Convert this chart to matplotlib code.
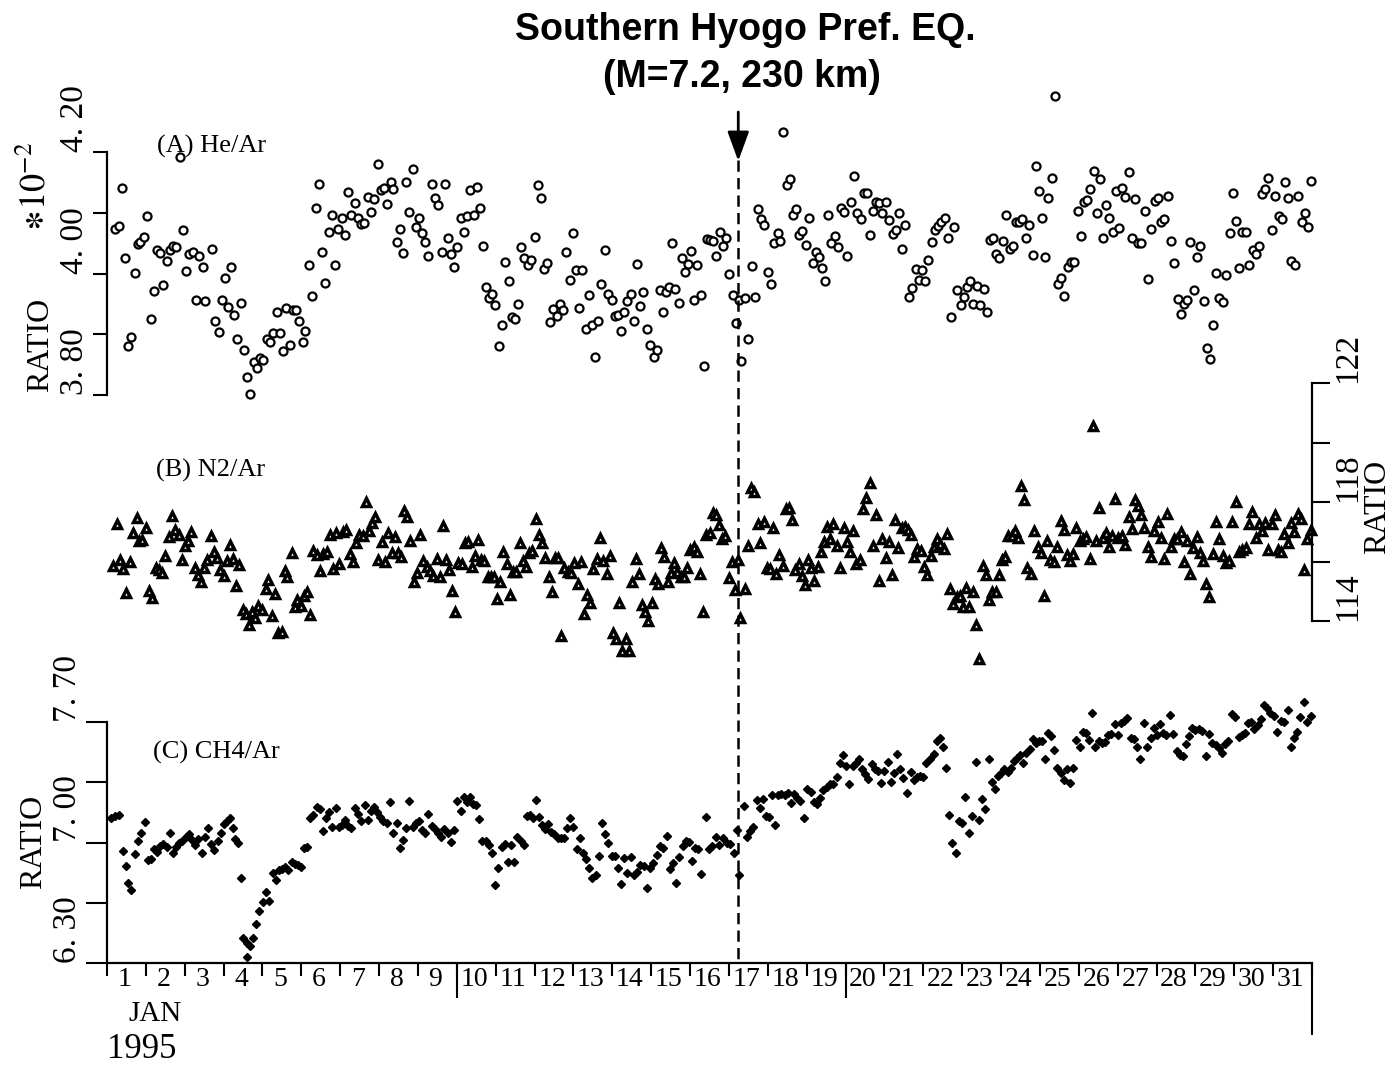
import matplotlib
matplotlib.use("Agg")
import matplotlib.pyplot as plt
from matplotlib.lines import Line2D
from matplotlib.transforms import blended_transform_factory

plt.rcParams["font.family"] = ["Liberation Serif", "DejaVu Serif"]
plt.rcParams["mathtext.fontset"] = "stix"

# ---- data (2-hourly samples, Jan 1995) ----
# day of month (fractional) and ratio for each panel

he_day = [
    1.20, 1.30, 1.38, 1.46, 1.54, 1.61, 1.71, 1.79, 1.86, 1.95,
    2.04, 2.12, 2.20, 2.29, 2.37, 2.45, 2.54, 2.63, 2.71, 2.78,
    2.88, 2.95, 3.03, 3.11, 3.21, 3.29, 3.37, 3.46, 3.53, 3.69,
    3.77, 3.87, 3.95, 4.04, 4.10, 4.18, 4.28, 4.35, 4.45, 4.53,
    4.61, 4.69, 4.77, 4.86, 4.93, 5.02, 5.12, 5.20, 5.27, 5.37,
    5.44, 5.52, 5.60, 5.70, 5.78, 5.85, 5.95, 6.03, 6.10, 6.19,
    6.28, 6.37, 6.46, 6.54, 6.62, 6.70, 6.79, 6.87, 6.95, 7.04,
    7.12, 7.21, 7.29, 7.37, 7.45, 7.53, 7.61, 7.71, 7.79, 7.86,
    7.96, 8.04, 8.12, 8.21, 8.30, 8.37, 8.45, 8.53, 8.61, 8.70,
    8.78, 8.88, 8.95, 9.03, 9.11, 9.19, 9.27, 9.36, 9.45, 9.52,
    9.61, 9.69, 9.77, 9.85, 9.93, 10.01, 10.10, 10.18, 10.27, 10.35,
    10.43, 10.51, 10.59, 10.67, 10.76, 10.84, 10.91, 10.99, 11.08, 11.16,
    11.24, 11.33, 11.42, 11.50, 11.57, 11.66, 11.74, 11.82, 11.90, 12.00,
    12.08, 12.16, 12.24, 12.33, 12.40, 12.48, 12.57, 12.65, 12.74, 12.82,
    12.90, 12.99, 13.06, 13.14, 13.23, 13.32, 13.40, 13.48, 13.55, 13.63,
    13.72, 13.80, 13.89, 13.98, 14.06, 14.14, 14.22, 14.30, 14.38, 14.47,
    14.56, 14.64, 14.72, 14.80, 14.89, 14.97, 15.06, 15.14, 15.22, 15.30,
    15.38, 15.46, 15.54, 15.62, 15.71, 15.79, 15.87, 15.95, 16.03, 16.11,
    16.19, 16.27, 16.36, 16.44, 16.52, 16.60, 16.68, 16.76,
    16.86, 16.93, 17.01, 17.10, 17.18, 17.26, 17.32, 17.42, 17.50, 17.59,
    17.67, 17.76, 17.83, 17.90, 18.00, 18.08, 18.17, 18.25, 18.31, 18.40,
    18.49, 18.58, 18.66, 18.73, 18.81, 18.89, 18.98, 19.06, 19.15, 19.23,
    19.31, 19.39, 19.47, 19.55, 19.63, 19.73, 19.81, 19.89, 19.97, 20.05,
    20.14, 20.22, 20.30, 20.39, 20.47, 20.55, 20.63, 20.71, 20.79, 20.87,
    20.95, 21.05, 21.13, 21.21, 21.29, 21.38, 21.46, 21.54, 21.63, 21.72,
    21.80, 21.88, 21.96, 22.04, 22.13, 22.22, 22.30, 22.38, 22.46, 22.55,
    22.63, 22.71, 22.79, 22.88, 22.96, 23.04, 23.13, 23.21, 23.29, 23.37,
    23.47, 23.55, 23.63, 23.71, 23.79, 23.87, 23.96, 24.05, 24.14, 24.22,
    24.30, 24.38, 24.46, 24.55, 24.63, 24.71, 24.81, 24.89, 24.97, 25.05,
    25.13, 25.22, 25.30, 25.39, 25.47, 25.55, 25.63, 25.71, 25.79, 25.87,
    25.97, 26.05, 26.13, 26.21, 26.29, 26.38, 26.46, 26.54, 26.63, 26.71,
    26.79, 26.88, 26.96, 27.04, 27.12, 27.20, 27.29, 27.37, 27.45, 27.53,
    27.61, 27.70, 27.78, 27.87, 27.95, 28.04, 28.12, 28.20, 28.29, 28.37,
    28.46, 28.55, 28.63, 28.71, 28.79, 28.87, 28.96, 29.05, 29.12, 29.21,
    29.29, 29.38, 29.46, 29.54, 29.62, 29.70, 29.80, 29.88, 29.96, 30.04,
    30.13, 30.21, 30.29, 30.38, 30.47, 30.55, 30.63, 30.72, 30.80, 30.88,
    30.96, 31.06, 31.14, 31.22, 31.30, 31.39, 31.47, 31.55, 31.65, 31.73,
    31.81, 31.89, 31.98,
]
he_ratio = [  # x 10^-2
    4.074, 4.078, 4.141, 4.025, 3.881, 3.895, 4.001, 4.048, 4.052, 4.060,
    4.095, 3.925, 3.971, 4.038, 4.033, 3.981, 4.021, 4.039, 4.045, 4.044,
    4.192, 4.072, 4.004, 4.032, 4.036, 3.957, 4.028, 4.011, 3.955, 4.041,
    3.921, 3.903, 3.957, 3.992, 3.945, 4.011, 3.931, 3.892, 3.951, 3.874,
    3.829, 3.801, 3.854, 3.844, 3.861, 3.858, 3.892, 3.888, 3.902, 3.937,
    3.902, 3.873, 3.944, 3.883, 3.940, 3.940, 3.922, 3.887, 3.905, 4.014,
    3.963, 4.107, 4.147, 4.035, 3.985, 4.068, 4.097, 4.014, 4.073, 4.091,
    4.064, 4.134, 4.096, 4.116, 4.092, 4.081, 4.083, 4.126, 4.102, 4.123,
    4.181, 4.137, 4.141, 4.114, 4.150, 4.139, 4.052, 4.074, 4.034, 4.150,
    4.102, 4.172, 4.077, 4.092, 4.067, 4.052, 4.029, 4.147, 4.125, 4.112,
    4.035, 4.147, 4.058, 4.032, 4.011, 4.043, 4.091, 4.069, 4.094, 4.137,
    4.097, 4.143, 4.107, 4.046, 3.978, 3.960, 3.966, 3.948, 3.881, 3.915,
    4.019, 3.987, 3.929, 3.925, 3.950, 4.043, 4.025, 4.014, 4.022, 4.060,
    4.146, 4.125, 4.007, 4.018, 3.920, 3.942, 3.930, 3.949, 3.940, 4.036,
    3.989, 4.067, 4.005, 3.943, 4.006, 3.908, 3.965, 3.915, 3.862, 3.922,
    3.982, 4.039, 3.966, 3.956, 3.930, 3.931, 3.905, 3.936, 3.954, 3.967,
    3.922, 4.015, 3.947, 3.970, 3.909, 3.882, 3.862, 3.874, 3.973, 3.936,
    3.969, 3.978, 4.051, 3.974, 3.951, 4.025, 4.002, 4.015, 4.037, 3.956,
    4.014, 3.965, 3.848, 4.057, 4.055, 4.053, 4.028, 4.068,
    4.046, 4.058, 4.000, 3.965, 3.918, 3.956, 3.856, 3.959, 3.893, 4.013,
    3.961, 4.106, 4.090, 4.080, 4.002, 3.983, 4.050, 4.066, 4.054, 4.233,
    4.146, 4.155, 4.096, 4.106, 4.064, 4.070, 4.047, 4.092, 4.017, 4.036,
    4.027, 4.009, 3.988, 4.097, 4.051, 4.061, 4.044, 4.107, 4.102, 4.028,
    4.118, 4.160, 4.099, 4.089, 4.132, 4.133, 4.063, 4.103, 4.117, 4.116,
    4.099, 4.118, 4.088, 4.065, 4.072, 4.099, 4.041, 4.080, 3.961, 3.976,
    4.007, 3.990, 4.005, 3.987, 4.022, 4.052, 4.071, 4.079, 4.085, 4.092,
    4.058, 3.928, 4.076, 3.973, 3.948, 3.961, 3.978, 3.987, 3.949, 3.979,
    3.948, 3.974, 3.936, 4.055, 4.058, 4.032, 4.026, 4.054, 4.096, 4.040,
    4.045, 4.084, 4.085, 4.090, 4.058, 4.080, 4.030, 4.177, 4.135, 4.091,
    4.027, 4.125, 4.157, 4.293, 3.983, 3.992, 3.963, 4.011, 4.019, 4.019,
    4.103, 4.062, 4.118, 4.121, 4.139, 4.169, 4.099, 4.155, 4.059, 4.113,
    4.092, 4.069, 4.136, 4.075, 4.141, 4.126, 4.167, 4.058, 4.122, 4.051,
    4.051, 4.103, 3.991, 4.074, 4.119, 4.125, 4.084, 4.090, 4.128, 4.054,
    4.018, 3.958, 3.934, 3.949, 3.956, 4.052, 3.973, 4.027, 4.045, 3.955,
    3.877, 3.859, 3.916, 4.001, 3.960, 3.953, 3.998, 4.067, 4.133, 4.087,
    4.009, 4.068, 4.069, 4.014, 4.038, 4.032, 4.045, 4.131, 4.139, 4.158,
    4.072, 4.128, 4.095, 4.090, 4.151, 4.124, 4.021, 4.014, 4.128, 4.085,
    4.100, 4.076, 4.152,
]

n2_day = [
    1.15, 1.25, 1.34, 1.41, 1.49, 1.58, 1.68, 1.76, 1.83, 1.91,
    2.01, 2.08, 2.15, 2.25, 2.34, 2.42, 2.50, 2.60, 2.68, 2.75,
    2.84, 2.92, 3.00, 3.08, 3.17, 3.26, 3.34, 3.41, 3.50, 3.58,
    3.67, 3.75, 3.84, 3.91, 4.00, 4.08, 4.16, 4.24, 4.32, 4.40,
    4.49, 4.57, 4.65, 4.73, 4.81, 4.89, 4.98, 5.08, 5.15, 5.24,
    5.32, 5.41, 5.49, 5.57, 5.64, 5.75, 5.83, 5.90, 5.98, 6.06,
    6.14, 6.23, 6.31, 6.40, 6.48, 6.56, 6.65, 6.74, 6.82, 6.90,
    6.98, 7.07, 7.16, 7.24, 7.32, 7.40, 7.48, 7.58, 7.66, 7.74,
    7.82, 7.90, 7.98, 8.07, 8.15, 8.24, 8.32, 8.40, 8.48, 8.56,
    8.64, 8.72, 8.80, 8.90, 8.98, 9.06, 9.14, 9.22, 9.30, 9.38,
    9.48, 9.56, 9.65, 9.72, 9.80, 9.88, 9.96, 10.04, 10.13, 10.21,
    10.29, 10.38, 10.46, 10.55, 10.62, 10.70, 10.79, 10.87, 10.95, 11.04,
    11.11, 11.20, 11.28, 11.37, 11.45, 11.53, 11.62, 11.70, 11.79, 11.85,
    11.94, 12.04, 12.12, 12.20, 12.28, 12.36, 12.44, 12.53, 12.60, 12.68,
    12.76, 12.85, 12.94, 13.02, 13.11, 13.20, 13.27, 13.35, 13.43, 13.51,
    13.60, 13.69, 13.77, 13.86, 13.94, 14.02, 14.10, 14.18, 14.26, 14.34,
    14.42, 14.51, 14.60, 14.69, 14.77, 14.85, 14.93, 15.01, 15.10, 15.18,
    15.26, 15.34, 15.43, 15.51, 15.59, 15.67, 15.76, 15.84, 15.92, 16.00,
    16.09, 16.17, 16.25, 16.33, 16.42, 16.50, 16.58, 16.66, 16.74,
    16.83, 16.90, 17.00, 17.08, 17.16, 17.24, 17.29, 17.41, 17.49, 17.57,
    17.65, 17.74, 17.81, 17.90, 17.98, 18.06, 18.14, 18.22, 18.30, 18.38,
    18.47, 18.55, 18.63, 18.71, 18.79, 18.87, 18.95, 19.03, 19.12, 19.20,
    19.28, 19.37, 19.45, 19.53, 19.61, 19.69, 19.78, 19.86, 19.95, 20.03,
    20.11, 20.19, 20.28, 20.37, 20.45, 20.53, 20.62, 20.70, 20.78, 20.86,
    20.94, 21.03, 21.11, 21.19, 21.28, 21.36, 21.44, 21.52, 21.60, 21.69,
    21.77, 21.85, 21.93, 22.02, 22.10, 22.19, 22.28, 22.36, 22.44, 22.52,
    22.61, 22.69, 22.77, 22.86, 22.94, 23.02, 23.10, 23.18, 23.27, 23.35,
    23.44, 23.53, 23.61, 23.70, 23.78, 23.86, 23.94, 24.02, 24.11, 24.19,
    24.27, 24.35, 24.43, 24.52, 24.60, 24.68, 24.78, 24.86, 24.94, 25.02,
    25.11, 25.19, 25.27, 25.36, 25.45, 25.53, 25.61, 25.69, 25.77, 25.86,
    25.94, 26.03, 26.11, 26.19, 26.28, 26.36, 26.44, 26.52, 26.62, 26.70,
    26.78, 26.86, 26.94, 27.02, 27.10, 27.18, 27.28, 27.36, 27.44, 27.52,
    27.60, 27.69, 27.77, 27.86, 27.94, 28.03, 28.11, 28.19, 28.28, 28.36,
    28.44, 28.53, 28.62, 28.70, 28.78, 28.86, 28.94, 29.03, 29.11, 29.20,
    29.28, 29.36, 29.45, 29.53, 29.61, 29.70, 29.79, 29.87, 29.95, 30.04,
    30.12, 30.20, 30.29, 30.38, 30.46, 30.55, 30.63, 30.71, 30.79, 30.87,
    30.96, 31.05, 31.13, 31.21, 31.29, 31.38, 31.46, 31.54, 31.64, 31.72,
    31.80, 31.88, 31.97,
]
n2_ratio = [
    115.86, 117.26, 116.05, 115.75, 114.93, 115.97, 116.95, 117.45, 116.69, 116.72,
    117.14, 115.01, 114.76, 115.77, 115.71, 115.60, 116.20, 116.81, 117.53, 117.06,
    116.89, 116.05, 116.53, 116.69, 117.00, 115.79, 115.55, 115.32, 115.77, 116.05,
    116.86, 116.33, 116.11, 115.71, 115.52, 116.02, 116.55, 116.07, 115.19, 115.88,
    114.37, 114.22, 113.87, 114.29, 114.09, 114.52, 114.37, 115.08, 115.38, 114.18,
    114.91, 113.61, 113.62, 115.68, 115.49, 116.27, 114.48, 114.71, 114.52, 114.85,
    114.96, 114.20, 116.36, 116.22, 115.68, 116.25, 116.33, 116.89, 115.75, 116.95,
    115.90, 116.98, 117.06, 116.24, 115.99, 116.63, 116.89, 116.87, 118.01, 117.03,
    117.28, 117.51, 116.05, 116.67, 115.99, 116.95, 116.27, 116.83, 116.27, 116.16,
    117.70, 117.51, 116.69, 115.30, 115.60, 116.89, 116.02, 115.83, 115.68, 115.52,
    116.07, 115.47, 117.20, 116.05, 115.71, 115.01, 114.29, 115.94, 115.90, 116.61,
    116.67, 115.83, 116.20, 116.72, 116.05, 116.03, 115.49, 115.49, 115.49, 114.73,
    115.32, 116.31, 115.92, 114.87, 115.66, 115.66, 116.61, 116.03, 115.83, 116.27,
    116.35, 117.42, 116.89, 116.63, 116.13, 115.47, 114.96, 116.13, 116.11, 113.50,
    115.77, 115.66, 115.60, 115.96, 115.23, 115.97, 114.24, 114.87, 114.62, 115.74,
    116.07, 116.78, 116.03, 115.58, 116.20, 113.59, 113.39, 114.59, 113.00, 113.39,
    113.00, 115.32, 116.07, 115.58, 114.54, 114.29, 114.00, 114.59, 115.40, 115.23,
    116.44, 116.16, 115.32, 115.60, 115.96, 115.66, 115.49, 115.49, 115.79, 116.39,
    116.50, 116.33, 115.57, 114.29, 116.89, 116.95, 117.62, 117.56, 117.23,
    116.76, 116.86, 115.43, 115.99, 115.04, 116.05, 114.09, 115.06, 116.53, 118.46,
    118.35, 117.25, 116.61, 117.32, 115.77, 115.74, 117.14, 115.57, 116.22, 115.86,
    117.75, 117.79, 117.39, 115.71, 115.90, 115.52, 115.21, 116.05, 115.79, 115.36,
    115.83, 116.31, 116.64, 117.17, 116.74, 117.26, 116.53, 115.77, 117.14, 116.67,
    116.31, 117.04, 115.90, 116.05, 117.76, 118.12, 118.63, 116.52, 117.56, 115.36,
    116.74, 116.11, 116.67, 115.55, 117.39, 116.44, 117.14, 117.17, 117.06, 116.89,
    116.14, 116.41, 116.35, 115.83, 115.55, 116.18, 116.50, 116.74, 116.59, 116.41,
    116.91, 115.06, 114.56, 114.82, 114.84, 114.48, 115.10, 114.48, 114.99, 113.87,
    112.72, 115.85, 115.55, 114.71, 114.96, 114.96, 115.55, 116.05, 116.14, 116.86,
    116.86, 117.03, 116.78, 118.54, 118.07, 115.77, 115.58, 117.04, 116.50, 116.27,
    114.85, 116.70, 116.05, 115.97, 116.50, 117.36, 117.06, 116.22, 116.02, 116.25,
    117.11, 116.70, 116.74, 116.81, 116.08, 120.57, 116.70, 117.81, 116.78, 116.97,
    116.50, 116.86, 118.09, 116.78, 116.86, 116.55, 117.51, 117.08, 118.07, 117.87,
    117.56, 117.14, 116.48, 116.16, 117.03, 117.34, 116.80, 116.08, 117.59, 116.50,
    116.74, 116.74, 116.98, 115.97, 116.70, 115.58, 116.46, 116.83, 116.27, 116.02,
    115.24, 114.82, 116.25, 117.34, 116.74, 116.20, 115.94, 116.02, 117.34, 117.99,
    116.33, 116.39, 116.44, 117.25, 117.67, 116.78, 117.26, 117.03, 117.31, 116.39,
    117.25, 117.56, 116.39, 116.33, 116.91, 116.61, 117.31, 117.00, 117.59, 117.42,
    115.71, 116.74, 117.06,
]

ch4_day = [
    1.10, 1.20, 1.31, 1.41, 1.48, 1.54, 1.61, 1.71, 1.81, 1.88,
    1.97, 2.05, 2.13, 2.21, 2.29, 2.37, 2.45, 2.54, 2.63, 2.71,
    2.78, 2.86, 2.94, 3.02, 3.10, 3.18, 3.27, 3.35, 3.44, 3.52,
    3.59, 3.68, 3.76, 3.85, 3.93, 4.00, 4.08, 4.16, 4.23, 4.30,
    4.38, 4.44, 4.51, 4.61, 4.69, 4.76, 4.61, 4.84, 4.92, 5.01,
    5.10, 5.18, 5.26, 5.34, 5.42, 5.50, 5.58, 5.66, 5.75, 5.83,
    5.91, 5.99, 6.07, 6.15, 6.23, 6.31, 6.40, 6.48, 6.56, 6.64,
    6.72, 6.80, 6.88, 6.97, 7.05, 7.13, 7.21, 7.29, 7.37, 7.45,
    7.53, 7.63, 7.71, 7.79, 7.87, 7.95, 8.03, 8.11, 8.20, 8.29,
    8.37, 8.45, 8.53, 8.61, 8.69, 8.77, 8.86, 8.94, 9.02, 9.10,
    9.18, 9.27, 9.35, 9.43, 9.52, 9.60, 9.68, 9.76, 9.84, 9.93,
    10.01, 10.10, 10.18, 10.26, 10.34, 10.42, 10.50, 10.58, 10.66, 10.75,
    10.83, 10.91, 10.99, 11.07, 11.15, 11.23, 11.31, 11.39, 11.48, 11.56,
    11.64, 11.72, 11.80, 11.88, 11.96, 12.03, 12.11, 12.19, 12.27, 12.35,
    12.43, 12.51, 12.60, 12.68, 12.76, 12.84, 12.92, 13.00, 13.08, 13.16,
    13.25, 13.33, 13.41, 13.49, 13.57, 13.65, 13.73, 13.82, 13.90, 13.98,
    14.06, 14.14, 14.22, 14.30, 14.38, 14.47, 14.55, 14.63, 14.71, 14.81,
    14.90, 14.97, 15.05, 15.14, 15.22, 15.30, 15.40, 15.48, 15.56, 15.65,
    15.72, 15.81, 15.89, 15.97, 16.05, 16.13, 16.21, 16.29, 16.40, 16.48,
    16.56, 16.66, 16.74,
    16.86, 16.94, 17.03, 17.13, 17.20, 17.27, 17.39, 17.47, 17.55, 17.62,
    17.71, 17.79, 17.87, 17.95, 18.03, 18.11, 18.19, 18.27, 18.35, 18.43,
    18.52, 18.60, 18.68, 18.76, 18.84, 18.93, 19.01, 19.10, 19.19, 19.27,
    19.35, 19.43, 19.52, 19.60, 19.68, 19.77, 19.85, 19.93, 20.01, 20.10,
    20.18, 20.26, 20.35, 20.43, 20.51, 20.59, 20.67, 20.75, 20.83, 20.91,
    20.99, 21.08, 21.17, 21.25, 21.33, 21.41, 21.49, 21.57, 21.68, 21.76,
    21.84, 21.92, 22.00, 22.08, 22.16, 22.27, 22.35, 22.43, 22.51, 22.59,
    22.67, 22.75, 22.83, 22.92, 23.00, 23.08, 23.18, 23.26, 23.35, 23.43,
    23.52, 23.60, 23.68, 23.76, 23.84, 23.92, 24.00, 24.08, 24.17, 24.25,
    24.33, 24.41, 24.49, 24.57, 24.65, 24.74, 24.82, 24.90, 24.98, 25.06,
    25.12, 25.20, 25.28, 25.37, 25.45, 25.53, 25.61, 25.69, 25.77, 25.85,
    25.94, 26.02, 26.10, 26.18, 26.26, 26.35, 26.43, 26.51, 26.60, 26.68,
    26.76, 26.84, 26.92, 27.00, 27.08, 27.16, 27.25, 27.34, 27.42, 27.50,
    27.58, 27.67, 27.76, 27.85, 27.93, 28.01, 28.09, 28.17, 28.25, 28.35,
    28.43, 28.52, 28.60, 28.68, 28.76, 28.84, 28.92, 29.00, 29.09, 29.17,
    29.28, 29.36, 29.44, 29.52, 29.60, 29.68, 29.77, 29.85, 29.95, 30.03,
    30.11, 30.19, 30.27, 30.36, 30.44, 30.52, 30.60, 30.68, 30.76, 30.84,
    30.92, 31.01, 31.11, 31.19, 31.27, 31.37, 31.45, 31.53, 31.62, 31.70,
    31.80, 31.88, 31.97,
]
ch4_ratio = [
    7.140, 7.154, 7.160, 6.953, 6.865, 6.763, 6.724, 6.931, 7.011, 7.057,
    7.117, 6.898, 6.902, 6.960, 6.947, 6.980, 6.991, 6.976, 7.053, 6.941,
    6.976, 6.999, 7.009, 7.034, 7.047, 7.015, 6.985, 7.018, 6.937, 7.034,
    7.082, 6.989, 6.956, 7.011, 7.057, 7.107, 7.125, 7.140, 7.086, 7.018,
    6.999, 6.792, 6.447, 6.414, 6.401, 6.443, 6.337, 6.525, 6.602, 6.652,
    6.714, 6.660, 6.821, 6.782, 6.840, 6.846, 6.856, 6.840, 6.889, 6.875,
    6.869, 6.860, 6.966, 6.976, 7.144, 7.160, 7.204, 7.195, 7.067, 7.140,
    7.175, 7.092, 7.199, 7.092, 7.102, 7.131, 7.096, 7.086, 7.199, 7.164,
    7.125, 7.218, 7.131, 7.183, 7.204, 7.175, 7.146, 7.125, 7.115, 7.237,
    7.057, 7.111, 6.970, 7.015, 7.086, 7.243, 7.092, 7.111, 7.125, 7.073,
    7.053, 7.164, 7.098, 7.076, 7.057, 7.034, 7.076, 7.057, 7.005, 7.073,
    7.241, 7.185, 7.262, 7.233, 7.262, 7.222, 7.218, 7.137, 7.011, 7.009,
    6.985, 6.937, 6.753, 6.854, 6.976, 6.989, 6.889, 6.985, 6.889, 7.034,
    7.011, 6.985, 7.154, 7.160, 7.140, 7.247, 7.150, 7.102, 7.076, 7.107,
    7.063, 7.047, 7.028, 7.028, 7.024, 7.086, 7.140, 7.092, 6.960, 7.028,
    6.937, 6.904, 6.854, 6.796, 6.811, 6.922, 7.111, 7.047, 6.999, 6.922,
    6.922, 6.854, 6.757, 6.908, 6.821, 6.918, 6.811, 6.831, 6.869, 6.865,
    6.734, 6.854, 6.879, 6.927, 6.982, 6.966, 7.040, 6.846, 6.879, 6.767,
    6.918, 6.980, 7.011, 7.005, 6.893, 6.966, 6.960, 6.817, 7.146, 6.960,
    6.980, 7.034, 6.985,
    7.024, 6.999, 6.991, 6.937, 7.073, 6.811, 7.214, 7.034, 7.067, 7.088,
    7.247, 7.202, 7.251, 7.154, 7.150, 7.276, 7.102, 7.276, 7.282, 7.276,
    7.290, 7.231, 7.280, 7.257, 7.241, 7.140, 7.309, 7.291, 7.237, 7.224,
    7.257, 7.305, 7.320, 7.338, 7.340, 7.382, 7.460, 7.508, 7.444, 7.338,
    7.444, 7.460, 7.483, 7.425, 7.398, 7.367, 7.456, 7.427, 7.415, 7.344,
    7.415, 7.470, 7.350, 7.402, 7.514, 7.427, 7.373, 7.286, 7.411, 7.363,
    7.379, 7.386, 7.379, 7.464, 7.483, 7.512, 7.590, 7.609, 7.553, 7.431,
    7.160, 6.999, 6.937, 7.125, 7.111, 7.262, 7.057, 7.154, 7.470, 7.131,
    7.251, 7.193, 7.483, 7.353, 7.309, 7.386, 7.406, 7.425, 7.411, 7.431,
    7.473, 7.489, 7.508, 7.464, 7.518, 7.541, 7.599, 7.576, 7.592, 7.590,
    7.483, 7.638, 7.619, 7.537, 7.431, 7.406, 7.363, 7.425, 7.344, 7.431,
    7.595, 7.557, 7.644, 7.634, 7.595, 7.750, 7.557, 7.592, 7.576, 7.586,
    7.625, 7.628, 7.686, 7.625, 7.696, 7.708, 7.721, 7.605, 7.599, 7.553,
    7.483, 7.692, 7.553, 7.605, 7.667, 7.625, 7.686, 7.634, 7.625, 7.741,
    7.630, 7.532, 7.508, 7.504, 7.570, 7.619, 7.663, 7.654, 7.657, 7.650,
    7.503, 7.628, 7.576, 7.566, 7.547, 7.518, 7.570, 7.592, 7.746, 7.731,
    7.615, 7.625, 7.634, 7.692, 7.702, 7.657, 7.683, 7.716, 7.799, 7.779,
    7.750, 7.735, 7.640, 7.706, 7.698, 7.770, 7.557, 7.605, 7.644, 7.731,
    7.818, 7.702, 7.735,
]

day_labels = [str(d) for d in range(1, 32)]
quake_day = 17.24  # Jan 17, 05:46 JST

# ---- layout (pixel based, figure is 1395 x 1065) ----
W, H = 1395, 1065


def px_rect(left, top, right, bottom):
    return [left / W, 1 - bottom / H, (right - left) / W, (bottom - top) / H]


def fy(y):
    return 1 - y / H


fig = plt.figure(figsize=(W / 100, H / 100), dpi=100)
ax_he = fig.add_axes(px_rect(107, 152, 1312, 395))
ax_n2 = fig.add_axes(px_rect(107, 383, 1312, 621))
ax_ch4 = fig.add_axes(px_rect(107, 722, 1312, 963))

for ax in (ax_he, ax_n2, ax_ch4):
    ax.set_xlim(1, 32)
    ax.patch.set_visible(False)
    for side in ("top", "right", "bottom", "left"):
        ax.spines[side].set_visible(False)
        ax.spines[side].set_linewidth(1.6)
    ax.set_xticks([])

# (A) He/Ar
ax_he.plot(he_day, he_ratio, "o", ms=5.8, mfc="white", mec="black", mew=1.6, clip_on=False)
ax_he.set_ylim(3.80, 4.20)
ax_he.spines["left"].set_visible(True)
ax_he.set_yticks([3.80, 4.00, 4.20], labels=["3. 80", "4. 00", "4. 20"],
                 rotation=90, va="bottom", ha="right")
ax_he.set_yticks([3.90, 4.10], minor=True)
ax_he.tick_params(axis="y", which="both", direction="out", length=10, width=1.5,
                  pad=2, labelsize=24)

# (B) N2/Ar
ax_n2.plot(n2_day, n2_ratio, "^", ms=6.0, mfc="white", mec="black", mew=2.5, clip_on=False)
ax_n2.set_ylim(114, 122)
ax_n2.spines["right"].set_visible(True)
ax_n2.yaxis.tick_right()
ax_n2.set_yticks([114, 118, 122], labels=["114", "118", "122"],
                 rotation=90, va="bottom", ha="left")
ax_n2.set_yticks([116, 120], minor=True)
ax_n2.tick_params(axis="y", which="both", direction="out", length=13, width=1.5,
                  pad=2, labelsize=24)

# (C) CH4/Ar
ax_ch4.plot(ch4_day, ch4_ratio, "D", ms=4.3, color="black", clip_on=False)
ax_ch4.set_ylim(6.30, 7.70)
ax_ch4.spines["left"].set_visible(True)
ax_ch4.spines["bottom"].set_visible(True)
ax_ch4.set_yticks([6.30, 7.00, 7.70], labels=["6. 30", "7. 00", "7. 70"],
                  rotation=90, va="bottom", ha="right")
ax_ch4.set_yticks([6.65, 7.35], minor=True)
ax_ch4.tick_params(axis="y", which="both", direction="out", length=15, width=1.5,
                   pad=2, labelsize=24)

ax_ch4.set_xticks(range(1, 33), labels=[""] * 32)
ax_ch4.tick_params(axis="x", which="major", direction="out", length=9.5, width=1.5)
ax_ch4.set_xticks([d + 0.45 for d in range(1, 32)], labels=day_labels, minor=True)
ax_ch4.tick_params(axis="x", which="minor", length=0, pad=3, labelsize=20)

# longer ticks at day 10, 20 and the end of the month
for ticks, length in (([10, 20], 25), ([32], 52)):
    sec = ax_ch4.secondary_xaxis("bottom")
    sec.set_xticks(ticks, labels=[""] * len(ticks))
    sec.tick_params(direction="out", length=length, width=1.5)
    sec.spines["bottom"].set_visible(False)

# earthquake marker: arrow and dashed line through all panels
trans = blended_transform_factory(ax_ch4.transData, fig.transFigure)
fig.add_artist(Line2D([quake_day, quake_day], [fy(160), fy(963)], transform=trans,
                      color="black", lw=1.8, dashes=(4.5, 2.5)))
ax_he.annotate("", xy=(quake_day, fy(161)), xytext=(quake_day, fy(112)),
               xycoords=("data", "figure fraction"), textcoords=("data", "figure fraction"),
               arrowprops=dict(arrowstyle="-|>,head_length=0.9,head_width=0.33",
                               color="black", lw=2, shrinkA=0, shrinkB=0, mutation_scale=20),
               annotation_clip=False)

# ---- text ----
sans = "Liberation Sans"
fig.text(745 / W, fy(30), "Southern Hyogo Pref. EQ.", ha="center", va="center",
         fontsize=27, family=sans, fontweight="bold")
fig.text(742 / W, fy(77), "(M=7.2, 230 km)", ha="center", va="center",
         fontsize=27, family=sans, fontweight="bold")

fig.text(157 / W, fy(146), "(A) He/Ar", ha="left", va="center", fontsize=19)
fig.text(156 / W, fy(470), "(B) N2/Ar", ha="left", va="center", fontsize=19)
fig.text(153 / W, fy(752), "(C) CH4/Ar", ha="left", va="center", fontsize=19)

fig.text(41 / W, fy(345), "RATIO", rotation=90, ha="center", va="center", fontsize=23)
fig.text(36 / W, fy(186), r"$\mathbf{\ast}10^{-2}$", rotation=90, ha="center", va="center",
         fontsize=26)
fig.text(34 / W, fy(842), "RATIO", rotation=90, ha="center", va="center", fontsize=23)
fig.text(1378 / W, fy(507), "RATIO", rotation=90, ha="center", va="center", fontsize=23)

fig.text(155 / W, fy(1014), "JAN", ha="center", va="center", fontsize=21)
fig.text(142 / W, fy(1049), "1995", ha="center", va="center", fontsize=25)

fig.savefig("out.png", dpi=100)
